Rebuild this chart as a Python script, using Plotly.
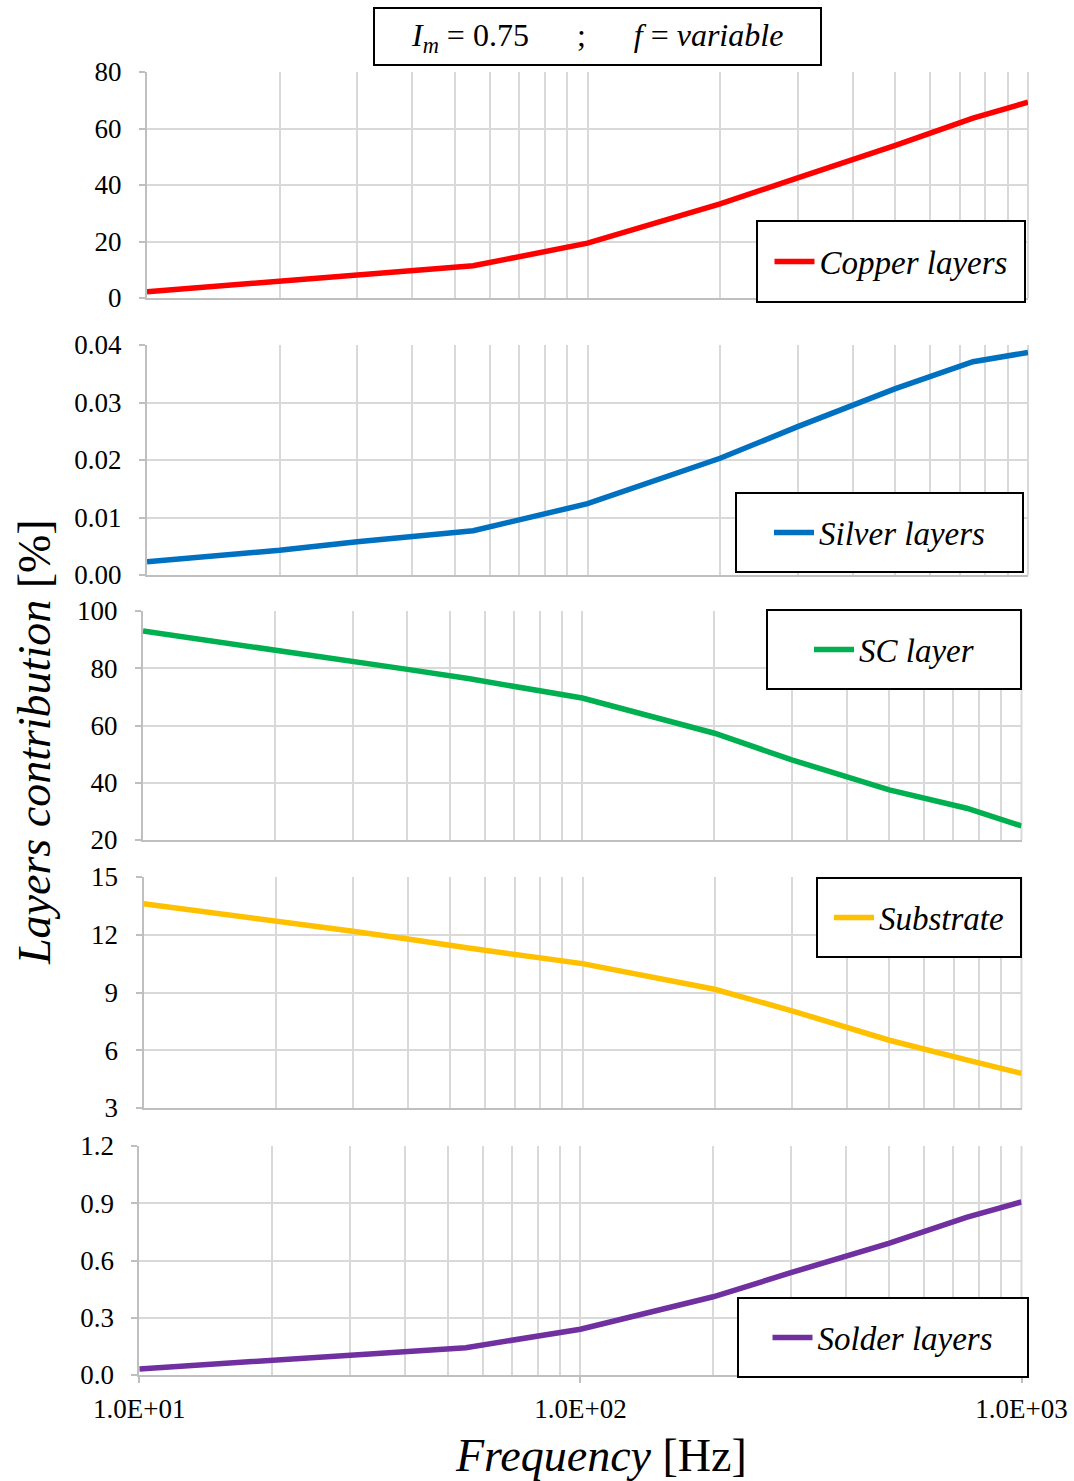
import plotly.graph_objects as go

# Frequency sweep [Hz] and contribution of each layer [%]
freq = [10, 20, 30, 40, 55, 100, 200, 300, 500, 750, 1000]
copper = [2.2, 6.1, 8.1, 9.6, 11.4, 19.4, 33.3, 42.5, 54.0, 63.7, 69.3]
silver = [0.0023, 0.0043, 0.0058, 0.0067, 0.0077, 0.0124, 0.0203, 0.0258, 0.0324, 0.0371, 0.0387]
sc_layer = [93.0, 86.5, 82.6, 79.6, 76.4, 69.6, 57.3, 48.0, 37.5, 31.1, 24.9]
substrate = [13.61, 12.75, 12.18, 11.78, 11.31, 10.50, 9.17, 8.05, 6.52, 5.50, 4.80]
solder = [0.032, 0.076, 0.105, 0.126, 0.143, 0.240, 0.41, 0.536, 0.69, 0.826, 0.907]

series_names = ["Copper layers", "Silver layers", "SC layer", "Substrate", "Solder layers"]
series_values = [copper, silver, sc_layer, substrate, solder]
series_colors = ["#FF0000", "#0070C0", "#00B050", "#FFC000", "#7030A0"]

y_ranges = [[0, 80], [0, 0.04], [20, 100], [3, 15], [0, 1.2]]
y_dticks = [20, 0.01, 20, 3, 0.3]
y_formats = ["d", ".2f", "d", "d", ".1f"]

x_tickvals = [10, 100, 1000]
x_ticktext = ["1.0E+01", "1.0E+02", "1.0E+03"]
x_minor = [m * d for d in (10, 100) for m in range(2, 10)]

W, H = 1074, 1481
FONT = "Liberation Serif, Times New Roman, DejaVu Serif, serif"

# panel boxes in pixels: (left, right, top, bottom)
panels = [
    (147, 1028, 72, 298),
    (147, 1028, 345, 575),
    (143, 1021.5, 611, 840),
    (143.5, 1021.5, 877, 1108),
    (139.3, 1021.5, 1146, 1375),
]
# legend boxes in pixels: (left, right, top, bottom)
legend_boxes = [
    (757, 1025, 221, 302),
    (736, 1023, 493, 572),
    (767, 1021, 610, 689),
    (817, 1021, 878, 957),
    (738, 1028, 1298, 1377),
]


def px(x):
    return x / W


def py(y):
    return 1 - y / H


fig = go.Figure()
layout = dict(
    width=W, height=H, autosize=False,
    margin=dict(l=0, r=0, t=0, b=0, autoexpand=False),
    paper_bgcolor="white", plot_bgcolor="white",
    font=dict(family=FONT, color="#000000"),
    showlegend=True,
)
shapes = []
grid = "#d9d9d9"
axis_col = "#bfbfbf"

for i, (name, vals, col) in enumerate(zip(series_names, series_values, series_colors)):
    n = i + 1
    xa = "x" if n == 1 else f"x{n}"
    ya = "y" if n == 1 else f"y{n}"
    lg = "legend" if n == 1 else f"legend{n}"
    fig.add_trace(go.Scatter(
        x=freq, y=vals, mode="lines", name=name,
        line=dict(color=col, width=5.5),
        xaxis=xa, yaxis=ya, legend=lg,
    ))
    l, r, t, b = panels[i]
    last = n == len(series_names)
    layout[f"xaxis{'' if n == 1 else n}"] = dict(
        type="log", range=[1, 3], domain=[px(l), px(r)], anchor=ya,
        tickvals=x_tickvals, ticktext=x_ticktext,
        showticklabels=last, ticks="outside" if last else "", ticklen=6,
        tickcolor=axis_col, tickwidth=2, ticklabelstandoff=3,
        tickfont=dict(family=FONT, size=27, color="#000000"),
        showgrid=True, gridcolor=grid, gridwidth=2,
        minor=dict(tickvals=x_minor, showgrid=True, gridcolor=grid, gridwidth=2, ticks=""),
        showline=True, linecolor=axis_col, linewidth=2,
        zeroline=False, fixedrange=True, automargin=False,
    )
    layout[f"yaxis{'' if n == 1 else n}"] = dict(
        range=y_ranges[i], dtick=y_dticks[i], tick0=y_ranges[i][0],
        tickformat=y_formats[i], domain=[py(b), py(t)], anchor=xa,
        ticks="outside", ticklen=6, tickcolor=axis_col, tickwidth=2,
        ticklabelstandoff=12,
        tickfont=dict(family=FONT, size=27, color="#000000"),
        showgrid=True, gridcolor=grid, gridwidth=2,
        showline=True, linecolor=axis_col, linewidth=2,
        zeroline=False, fixedrange=True, automargin=False,
    )
    # right-hand frame line of the plot area (last gridline of the decade)
    shapes.append(dict(type="line", xref="paper", yref="paper",
                       x0=px(r), x1=px(r), y0=py(b), y1=py(t),
                       line=dict(color=grid, width=2), layer="below"))
    bl, br, bt, bb = legend_boxes[i]
    shapes.append(dict(type="rect", xref="paper", yref="paper",
                       x0=px(bl), x1=px(br), y0=py(bb), y1=py(bt),
                       line=dict(color="#000000", width=2), fillcolor="white", layer="above"))
    layout[lg] = dict(
        x=px((bl + br) / 2), y=py((bt + bb) / 2),
        xanchor="center", yanchor="middle",
        bgcolor="rgba(0,0,0,0)", borderwidth=0,
        font=dict(family=FONT, size=33, style="italic", color="#000000"),
        itemwidth=40,
    )

# title box
shapes.append(dict(type="rect", xref="paper", yref="paper",
                   x0=px(374), x1=px(821), y0=py(65), y1=py(8),
                   line=dict(color="#000000", width=2), fillcolor="white"))

sp = "\u00a0" * 6
annotations = [
    dict(text=f"<i>I</i><sub><i>m</i></sub> = 0.75{sp};{sp}<i>f</i> = <i>variable</i>",
         x=px(597), y=py(37), xref="paper", yref="paper",
         showarrow=False, xanchor="center", yanchor="middle",
         font=dict(family=FONT, size=32, color="#000000")),
    dict(text="<i>Layers contribution</i> [%]",
         x=px(34), y=py(742), xref="paper", yref="paper", textangle=-90,
         showarrow=False, xanchor="center", yanchor="middle",
         font=dict(family=FONT, size=46, color="#000000")),
    dict(text="<i>Frequency</i> [Hz]",
         x=px(601), y=py(1455), xref="paper", yref="paper",
         showarrow=False, xanchor="center", yanchor="middle",
         font=dict(family=FONT, size=46, color="#000000")),
]

layout["shapes"] = shapes
layout["annotations"] = annotations
fig.update_layout(**layout)

fig.write_html("out.html")
